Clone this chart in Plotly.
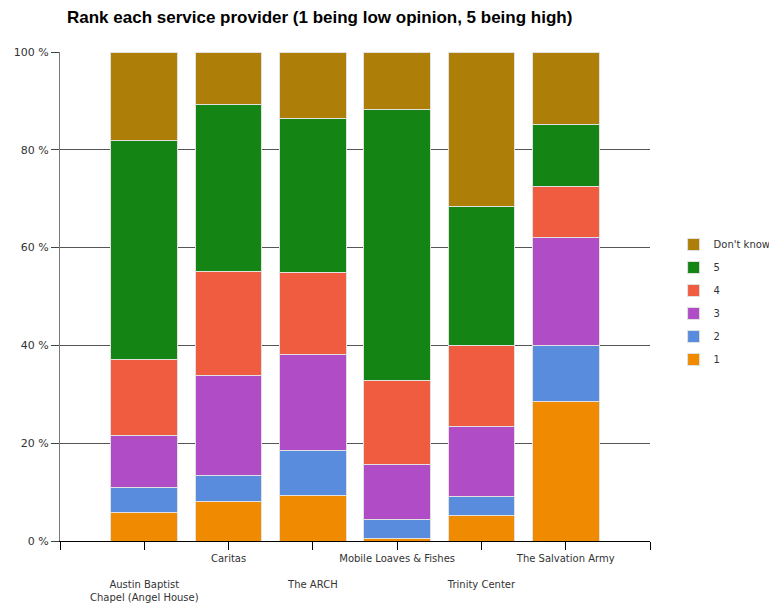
import plotly.graph_objects as go

categories = ["Austin Baptist<br>Chapel (Angel House)", "Caritas", "The ARCH",
              "Mobile Loaves & Fishes", "Trinity Center", "The Salvation Army"]
series_names = ["1", "2", "3", "4", "5", "Don't know"]
r1 = [5.8, 8.0, 9.4, 0.5, 5.3, 28.6]
r2 = [5.1, 5.3, 9.2, 3.8, 3.8, 11.4]
r3 = [10.7, 20.6, 19.6, 11.4, 14.3, 22.0]
r4 = [15.6, 21.3, 16.7, 17.1, 16.5, 10.5]
r5 = [44.8, 34.0, 31.6, 55.4, 28.6, 12.7]
dont_know = [18.0, 10.8, 13.5, 11.8, 31.5, 14.8]
y_ticks = [0, 20, 40, 60, 80, 100]

series_values = [r1, r2, r3, r4, r5, dont_know]
colors = ["#F08A00", "#5A8CDE", "#B04DC6", "#F05C40", "#148414", "#AD7E08"]

x_pos = list(range(len(categories)))

fig = go.Figure()
n = len(series_names)
for i, (name, vals, col) in enumerate(zip(series_names, series_values, colors)):
    fig.add_trace(go.Bar(
        x=x_pos, y=vals, name=name, legendgroup=name, legendrank=n - i,
        marker=dict(color=col, line=dict(color="rgba(225,225,225,1)", width=1)),
    ))

tick_vals = [-1] + x_pos + [len(categories)]
tick_text = [""] + [("<br><br>" + c) if i % 2 == 0 else c for i, c in enumerate(categories)] + [""]

# page body has an 8px margin, so the figure is 8px smaller and shifted
W, H = 769, 595
fig.update_layout(
    barmode="stack",
    bargap=0.21,
    width=W, height=H,
    margin=dict(l=52, r=127, t=44, b=62, autoexpand=False),
    paper_bgcolor="white", plot_bgcolor="white",
    font=dict(family="DejaVu Sans", size=10, color="#333"),
    title=dict(text="<b>Rank each service provider (1 being low opinion, 5 being high)</b>",
               x=59 / W, xanchor="left", xref="container", y=1 - 9 / H, yanchor="middle",
               pad=dict(l=0, r=0, t=0, b=0),
               font=dict(family="Liberation Sans", size=17, color="#000")),
    legend=dict(x=1.04, xanchor="left", y=0.636, yanchor="top",
                traceorder="grouped", tracegroupgap=4,
                font=dict(family="DejaVu Sans", size=10, color="#333")),
    showlegend=True,
)
fig.update_xaxes(range=[-1, len(categories)], tickvals=tick_vals, ticktext=tick_text,
                 tickangle=0, automargin=False,
                 showgrid=False, zeroline=False, showline=True, linecolor="#000", linewidth=1,
                 ticks="outside", ticklen=8, tickcolor="#000",
                 tickfont=dict(family="DejaVu Sans", size=10, color="#333"))
fig.update_yaxes(range=[0, 100], tickvals=y_ticks, ticktext=[f"{v} %" for v in y_ticks],
                 automargin=False,
                 showgrid=True, gridcolor="#555", gridwidth=1, zeroline=False,
                 showline=True, linecolor="#777", linewidth=1,
                 ticks="outside", ticklen=8, tickcolor="#444",
                 tickfont=dict(family="DejaVu Sans", size=11, color="#333"))

fig.write_html("out.html")
